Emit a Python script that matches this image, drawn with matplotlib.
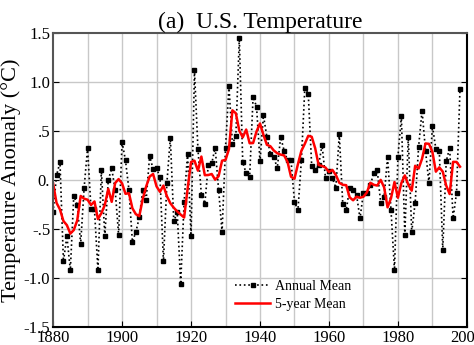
import matplotlib
matplotlib.use("Agg")
import matplotlib.pyplot as plt
import numpy as np
import pandas as pd

plt.rcParams['font.family'] = ['Liberation Serif', 'DejaVu Serif']

# data
years = np.arange(1880, 1999)
annual = [
    -0.33, 0.05, 0.18, -0.83, -0.57, -0.92, -0.16, -0.25, -0.65, -0.08,
    0.33, -0.30, -0.30, -0.92, 0.10, -0.57, 0.00, 0.12, -0.10, -0.56,
    0.39, 0.20, -0.10, -0.63, -0.53, -0.38, -0.10, -0.20, 0.25, 0.11,
    0.12, 0.03, -0.83, -0.03, 0.43, -0.42, -0.33, -1.06, -0.22, 0.27,
    -0.57, 1.12, 0.32, -0.15, -0.24, 0.15, 0.17, 0.33, -0.10, -0.53,
    0.33, 0.96, 0.37, 0.45, 1.45, 0.18, 0.07, 0.03, 0.85, 0.75,
    0.19, 0.66, 0.44, 0.27, 0.24, 0.12, 0.44, 0.30, 0.20, 0.20,
    -0.22, -0.31, 0.20, 0.94, 0.88, 0.14, 0.10, 0.15, 0.36, 0.02,
    0.09, 0.02, -0.08, 0.47, -0.24, -0.31, -0.08, -0.10, -0.15, -0.39,
    -0.13, -0.13, -0.05, 0.07, 0.10, -0.23, -0.17, 0.24, -0.31, -0.92,
    0.24, 0.65, -0.56, 0.44, -0.53, -0.23, 0.34, 0.71, 0.30, -0.03,
    0.55, 0.32, 0.30, -0.71, 0.19, 0.33, -0.39, -0.13, 0.93]
five_year = pd.Series(annual).rolling(5, center=True, min_periods=1).mean()

yticks = [-1.5, -1.0, -0.5, 0.0, 0.5, 1.0, 1.5]
ylabels = ['-1.5', '-1.0', '-.5', '0.', '.5', '1.0', '1.5']
xticks = [1880, 1900, 1920, 1940, 1960, 1980, 2000]

fig = plt.figure(figsize=(4.74, 3.45), dpi=100)
ax = fig.add_axes([0.112, 0.052, 0.873, 0.852])

for x in range(1890, 2000, 10):
    ax.axvline(x, color='#c8c8c8', lw=1, zorder=0)
for y in [-1.0, -0.5, 0.0, 0.5, 1.0]:
    ax.axhline(y, color='#c8c8c8', lw=1, zorder=0)

ax.plot(years, annual, color='black', ls=':', lw=1.2, marker='s', ms=2.5,
        label='Annual Mean')
ax.plot(years, five_year, color='red', lw=1.8, label='5-year Mean')

ax.set_xlim(1880, 2000)
ax.set_ylim(-1.5, 1.5)
ax.set_xticks(xticks)
ax.set_yticks(yticks)
ax.set_yticklabels(ylabels)
ax.tick_params(direction='in', length=4, labelsize=12, pad=2, right=True)
for s in ['top', 'left']:
    ax.spines[s].set_color('#555555')
    ax.spines[s].set_linewidth(1.5)
for s in ['bottom', 'right']:
    ax.spines[s].set_linewidth(1.5)

ax.set_ylabel('Temperature Anomaly (°C)', fontsize=16, labelpad=2)
ax.set_title('(a)  U.S. Temperature', fontsize=17, pad=4)
ax.legend(loc='lower left', bbox_to_anchor=(0.44, 0.055), frameon=False,
          fontsize=10, handlelength=2.5, handletextpad=0.4,
          labelspacing=0.35, borderpad=0, borderaxespad=0)

fig.savefig('out.png', dpi=100)
